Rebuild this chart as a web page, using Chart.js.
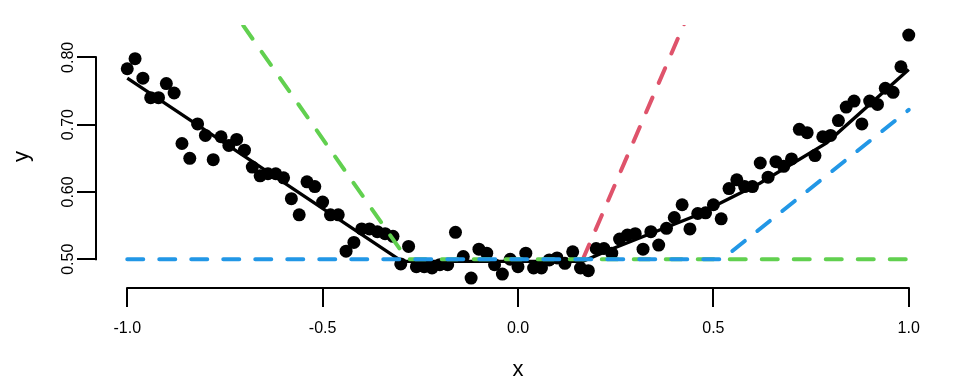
<!DOCTYPE html>
<html><head><meta charset="utf-8">
<script src="https://cdn.jsdelivr.net/npm/chart.js@4/dist/chart.umd.min.js"></script>
<style>html,body{margin:0;padding:0;background:#fff}#wrap{width:960px;height:384px}</style>
</head><body><div id="wrap"><canvas id="c" width="960" height="384"></canvas></div>
<script>
const xValues = [-1.00,-0.98,-0.96,-0.94,-0.92,-0.90,-0.88,-0.86,-0.84,-0.82,
  -0.80,-0.78,-0.76,-0.74,-0.72,-0.70,-0.68,-0.66,-0.64,-0.62,
  -0.60,-0.58,-0.56,-0.54,-0.52,-0.50,-0.48,-0.46,-0.44,-0.42,
  -0.40,-0.38,-0.36,-0.34,-0.32,-0.30,-0.28,-0.26,-0.24,-0.22,
  -0.20,-0.18,-0.16,-0.14,-0.12,-0.10,-0.08,-0.06,-0.04,-0.02,
  0.00,0.02,0.04,0.06,0.08,0.10,0.12,0.14,0.16,0.18,
  0.20,0.22,0.24,0.26,0.28,0.30,0.32,0.34,0.36,0.38,
  0.40,0.42,0.44,0.46,0.48,0.50,0.52,0.54,0.56,0.58,
  0.60,0.62,0.64,0.66,0.68,0.70,0.72,0.74,0.76,0.78,
  0.80,0.82,0.84,0.86,0.88,0.90,0.92,0.94,0.96,0.98,1.00];
const yValues = [0.783,0.798,0.769,0.740,0.740,0.761,0.747,0.672,0.650,0.701,
  0.684,0.648,0.682,0.669,0.678,0.662,0.637,0.624,0.627,0.627,
  0.621,0.590,0.566,0.615,0.608,0.585,0.566,0.566,0.512,0.525,
  0.545,0.545,0.541,0.538,0.534,0.493,0.519,0.489,0.489,0.487,
  0.492,0.492,0.540,0.504,0.472,0.515,0.509,0.492,0.478,0.500,
  0.489,0.509,0.487,0.487,0.499,0.502,0.494,0.511,0.487,0.483,
  0.516,0.516,0.509,0.530,0.536,0.538,0.515,0.541,0.521,0.546,
  0.562,0.581,0.545,0.568,0.569,0.581,0.560,0.605,0.618,0.608,
  0.608,0.643,0.622,0.645,0.638,0.649,0.693,0.688,0.654,0.682,
  0.684,0.706,0.726,0.735,0.701,0.735,0.730,0.754,0.748,0.786,0.833];
const fitX = [-1.0, -0.297, 0.166, 0.235, 0.448, 0.619, 0.790, 1.0];
const fitY = [0.769, 0.497, 0.497, 0.514, 0.563, 0.613, 0.673, 0.782];
const greenX = [-0.75, -0.284, 1.0];
const greenY = [0.886, 0.5, 0.5];
const redX = [0.166, 0.45];
const redY = [0.5, 0.883];
const blueX = [-1.0, 0.522, 1.0];
const blueY = [0.5, 0.5, 0.722];
const xTicks = [-1.0, -0.5, 0.0, 0.5, 1.0];
const yTicks = [0.5, 0.6, 0.7, 0.8];
const xTitle = 'x';
const yTitle = 'y';

const pts = (xs, ys) => xs.map((x, i) => ({x: x, y: ys[i]}));
const FONT = "'Liberation Sans', Arial, Helvetica, sans-serif";

const axisLines = {
  id: 'axisLines',
  afterDraw(chart) {
    const ctx = chart.ctx, xs = chart.scales.x, ys = chart.scales.y, a = chart.chartArea;
    ctx.save();
    ctx.strokeStyle = '#000';
    ctx.lineWidth = 2;
    ctx.lineCap = 'butt';
    ctx.beginPath();
    ctx.moveTo(xs.getPixelForValue(xTicks[0]) - 1, a.bottom);
    ctx.lineTo(xs.getPixelForValue(xTicks[xTicks.length - 1]) + 1, a.bottom);
    ctx.moveTo(a.left, ys.getPixelForValue(yTicks[0]) + 1);
    ctx.lineTo(a.left, ys.getPixelForValue(yTicks[yTicks.length - 1]) - 1);
    ctx.stroke();
    ctx.restore();
  }
};

const dashed = (label, xs, ys, color, order) => ({
  type: 'line', label: label, data: pts(xs, ys), borderColor: color, backgroundColor: color,
  borderWidth: 4, borderDash: [16, 16], borderCapStyle: 'round', pointRadius: 0,
  fill: false, tension: 0, order: order
});

new Chart(document.getElementById('c'), {
  type: 'scatter',
  data: {
    datasets: [
      { type: 'scatter', label: 'data', data: pts(xValues, yValues), backgroundColor: '#000',
        borderWidth: 0, pointRadius: 6.5, order: 5 },
      { type: 'line', label: 'fit', data: pts(fitX, fitY), borderColor: '#000', borderWidth: 3.3,
        pointRadius: 0, fill: false, tension: 0, order: 4 },
      dashed('red', redX, redY, '#DF536B', 3),
      dashed('green', greenX, greenY, '#61D04F', 2),
      dashed('blue', blueX, blueY, '#2297E6', 1)
    ]
  },
  options: {
    responsive: false, animation: false, devicePixelRatio: 1,
    layout: { padding: { top: 25, right: 20, left: 0, bottom: 0 } },
    plugins: { legend: { display: false }, tooltip: { enabled: false } },
    scales: {
      x: {
        type: 'linear', min: -1.08, max: 1.08,
        afterBuildTicks: s => { s.ticks = xTicks.map(v => ({value: v})); },
        afterFit: s => { s.height = 96; },
        border: { display: false },
        grid: { drawOnChartArea: false, drawTicks: true, tickLength: 19, color: '#000', lineWidth: 2 },
        ticks: { autoSkip: false, maxRotation: 0, minRotation: 0, padding: 12, color: '#000',
          font: { family: FONT, size: 16 }, callback: v => Number(v).toFixed(1) },
        title: { display: true, text: xTitle, color: '#000', font: { family: FONT, size: 22 },
          padding: { top: 0, bottom: 1 } }
      },
      y: {
        type: 'linear', min: 0.4573, max: 0.848,
        afterBuildTicks: s => { s.ticks = yTicks.map(v => ({value: v})); },
        afterFit: s => { s.width = 96; },
        border: { display: false },
        grid: { drawOnChartArea: false, drawTicks: true, tickLength: 19, color: '#000', lineWidth: 2 },
        ticks: { autoSkip: false, minRotation: 90, maxRotation: 90, crossAlign: 'center', padding: -7,
          color: '#000', font: { family: FONT, size: 16 }, callback: v => Number(v).toFixed(2) },
        title: { display: true, text: yTitle, color: '#000', font: { family: FONT, size: 22 },
          padding: { top: 9, bottom: 0 } }
      }
    }
  },
  plugins: [axisLines]
});
</script></body></html>
